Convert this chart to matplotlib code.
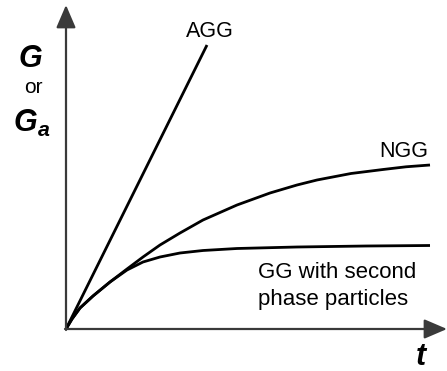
import matplotlib
matplotlib.use("Agg")
import matplotlib.pyplot as plt

plt.rcParams['font.family'] = ['Liberation Sans', 'DejaVu Sans']
plt.rcParams['mathtext.fontset'] = 'custom'
plt.rcParams['mathtext.bfit'] = 'Liberation Sans:bold:italic'
plt.rcParams['mathtext.it'] = 'Liberation Sans:italic'
plt.rcParams['mathtext.rm'] = 'Liberation Sans'

# Values (arbitrary units: t, G)
agg_t = [0, 141]
agg_g = [0, 284]

ngg_t = [0, 6, 14, 27, 44, 61, 77, 94, 114, 137, 171, 204, 231, 251, 285, 317, 340, 364]
ngg_g = [0, 10, 21, 33, 47, 60, 72, 84, 96, 109, 124, 136, 144, 149, 155.5, 159.5, 162.2, 164]

gg_t = [0, 6, 14, 27, 44, 61, 77, 94, 114, 137, 171, 231, 300, 364]
gg_g = [0, 10, 21, 33, 47, 59, 67, 72, 76, 78.5, 80.5, 82, 83, 83.5]

curve_labels = ["AGG", "NGG"]
gg_label_lines = ["GG with second", "phase particles"]

fig = plt.figure(figsize=(4.47, 3.71), dpi=100)
ax = fig.add_axes([0, 0, 1, 1])
ax.set_xlim(-66, 381)
ax.set_ylim(-42, 329)
ax.axis('off')

axis_col = '#3a3a3a'
ax.annotate('', xy=(381, 0), xytext=(-1, 0),
            arrowprops=dict(arrowstyle='-|>,head_length=0.7,head_width=0.3',
                            color=axis_col, lw=1.6,
                            mutation_scale=20, shrinkA=0, shrinkB=0))
ax.annotate('', xy=(0, 324), xytext=(0, -1),
            arrowprops=dict(arrowstyle='-|>,head_length=0.7,head_width=0.3',
                            color=axis_col, lw=1.6,
                            mutation_scale=20, shrinkA=0, shrinkB=0))

lw = 2.0
for t, g in [(agg_t, agg_g), (ngg_t, ngg_g), (gg_t, gg_g)]:
    ax.plot(t, g, color='black', lw=lw, solid_capstyle='butt',
            solid_joinstyle='round')

ax.text(144, 292, curve_labels[0], fontsize=15.5, ha='center', va='baseline')
ax.text(338, 172, curve_labels[1], fontsize=15.5, ha='center', va='baseline')
ax.text(192, 51, gg_label_lines[0], fontsize=16, ha='left', va='baseline')
ax.text(192, 24, gg_label_lines[1], fontsize=16, ha='left', va='baseline')

ax.text(-36, 262, "G", fontsize=22, fontweight='bold', fontstyle='italic',
        ha='center', va='baseline')
ax.text(-33, 236, "or", fontsize=15, ha='center', va='baseline')
ax.text(-53, 197, r"$\mathbfit{G}_{\mathbfit{a}}$", fontsize=22,
        ha='left', va='baseline')
ax.text(355, -36, "t", fontsize=22, fontweight='bold', fontstyle='italic',
        ha='center', va='baseline')

fig.savefig("out.png", dpi=100)
